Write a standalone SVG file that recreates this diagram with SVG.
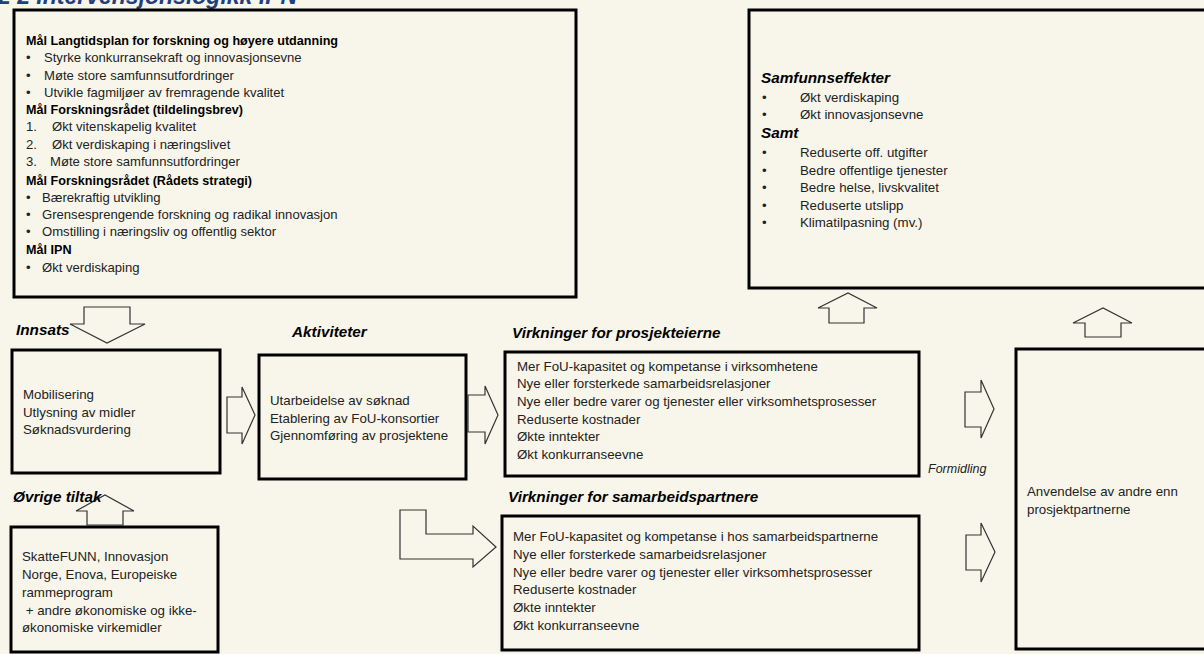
<svg xmlns="http://www.w3.org/2000/svg" width="1204" height="654" viewBox="0 0 1204 654">
<style>
.bg{fill:#f8f6eb}
.box{fill:#f8f6eb;stroke:#000;stroke-width:3}
.arr{fill:#f8f6eb;stroke:#333;stroke-width:1.2;stroke-linejoin:miter}
text{font-family:"Liberation Sans",Arial,sans-serif;fill:#222}
.t{font-size:13.1px}
.tb{font-size:12.6px;font-weight:bold;fill:#000}
.h{font-size:15.3px;font-weight:bold;font-style:italic;fill:#000}
.m{font-size:13.3px}
.it{font-size:12.5px;font-style:italic}
.title{font-size:23px;font-weight:bold;font-style:italic;fill:#1f3f7f}
</style>
<rect class="bg" x="0" y="0" width="1204" height="654"/>
<text class="title" x="-2" y="4">2 2 Intervensjonslogikk IPN</text>

<g id="connectors">
  <polygon class="arr" points="84,307 130,307 130,324 145,324 107,343 70,324 84,324"/>
  <polygon class="arr" points="227,397 242,397 242,387 255,415 242,444 242,433 227,433"/>
  <polygon class="arr" points="468,395 485,395 485,386 498,415 485,444 485,432 468,432"/>
  <polygon class="arr" points="400,510 426,510 426,534 473,534 473,526 496,547 473,567 473,559 400,559"/>
  <polygon class="arr" points="87,525 87,511 76,511 105,495 134,511 123,511 123,525"/>
  <polygon class="arr" points="965,392 981,392 981,380 994,409 981,438 981,427 965,427"/>
  <polygon class="arr" points="966,535 981,535 981,523 995,552 981,582 981,570 966,570"/>
  <polygon class="arr" points="829,323 829,308 818,308 848,293 877,308 864,308 864,323"/>
  <polygon class="arr" points="1085,337 1085,323 1073,323 1103,308 1132,323 1121,323 1121,337"/>
</g>

<g id="maal">
  <rect class="box" x="14" y="10" width="562" height="287"/>
  <text class="tb" x="26" y="44.5">Mål Langtidsplan  for forskning og høyere utdanning</text>
  <text class="t" x="26" y="62">•</text><text class="t" x="44" y="62">Styrke konkurransekraft og innovasjonsevne</text>
  <text class="t" x="26" y="79.5">•</text><text class="t" x="44" y="79.5">Møte store samfunnsutfordringer</text>
  <text class="t" x="26" y="96.5">•</text><text class="t" x="44" y="96.5">Utvikle fagmiljøer av fremragende kvalitet</text>
  <text class="tb" x="26" y="114">Mål Forskningsrådet  (tildelingsbrev)</text>
  <text class="t" x="26" y="131">1.</text><text class="t" x="52" y="131">Økt vitenskapelig kvalitet</text>
  <text class="t" x="26" y="148.5">2.</text><text class="t" x="52" y="148.5">Økt verdiskaping i næringslivet</text>
  <text class="t" x="26" y="166">3.</text><text class="t" x="50" y="166">Møte store samfunnsutfordringer</text>
  <text class="tb" x="26" y="185">Mål Forskningsrådet  (Rådets strategi)</text>
  <text class="t" x="26" y="202">•</text><text class="t" x="42" y="202">Bærekraftig utvikling</text>
  <text class="t" x="26" y="219">•</text><text class="t" x="42" y="219">Grensesprengende  forskning og radikal innovasjon</text>
  <text class="t" x="26" y="236">•</text><text class="t" x="42" y="236">Omstilling i næringsliv og offentlig sektor</text>
  <text class="tb" x="26" y="254">Mål IPN</text>
  <text class="t" x="26" y="272">•</text><text class="t" x="42" y="272">Økt verdiskaping</text>
</g>

<g id="samfunnseffekter">
  <rect class="box" x="749" y="10" width="480" height="278"/>
  <text class="h" x="761" y="83">Samfunnseffekter</text>
  <text class="m" x="762" y="102">•</text><text class="m" x="800" y="102">Økt verdiskaping</text>
  <text class="m" x="762" y="119">•</text><text class="m" x="800" y="119">Økt innovasjonsevne</text>
  <text class="h" x="761" y="138">Samt</text>
  <text class="m" x="762" y="157">•</text><text class="m" x="800" y="157">Reduserte off. utgifter</text>
  <text class="m" x="762" y="175">•</text><text class="m" x="800" y="175">Bedre offentlige tjenester</text>
  <text class="m" x="762" y="192">•</text><text class="m" x="800" y="192">Bedre helse, livskvalitet</text>
  <text class="m" x="762" y="210">•</text><text class="m" x="800" y="210">Reduserte utslipp</text>
  <text class="m" x="762" y="227">•</text><text class="m" x="800" y="227">Klimatilpasning (mv.)</text>
</g>

<g id="innsats">
  <text class="h" x="16" y="335">Innsats</text>
  <rect class="box" x="12" y="350" width="208" height="123"/>
  <text class="m" x="23" y="399">Mobilisering</text>
  <text class="m" x="23" y="417">Utlysning av midler</text>
  <text class="m" x="23" y="434">Søknadsvurdering</text>
</g>

<g id="aktiviteter">
  <text class="h" x="292" y="337">Aktiviteter</text>
  <rect class="box" x="259" y="355" width="207" height="124"/>
  <text class="m" x="270" y="405">Utarbeidelse  av søknad</text>
  <text class="m" x="270" y="423">Etablering av FoU-konsortier</text>
  <text class="m" x="270" y="440">Gjennomføring av prosjektene</text>
</g>

<g id="virkninger-prosjekteierne">
  <text class="h" x="512" y="338">Virkninger for prosjekteierne</text>
  <rect class="box" x="505" y="352" width="414" height="124"/>
  <text class="m" x="517" y="370.5">Mer FoU-kapasitet og kompetanse i virksomhetene</text>
  <text class="m" x="517" y="388">Nye eller forsterkede samarbeidsrelasjoner</text>
  <text class="m" x="517" y="405.5">Nye eller bedre varer og tjenester  eller virksomhetsprosesser</text>
  <text class="m" x="517" y="423.5">Reduserte kostnader</text>
  <text class="m" x="517" y="441">Økte inntekter</text>
  <text class="m" x="517" y="458.5">Økt konkurranseevne</text>
</g>

<g id="formidling">
  <text class="it" x="928" y="473">Formidling</text>
</g>

<g id="virkninger-samarbeidspartnere">
  <text class="h" x="508" y="502">Virkninger for samarbeidspartnere</text>
  <rect class="box" x="502" y="516" width="417" height="134"/>
  <text class="m" x="513" y="541">Mer FoU-kapasitet og kompetanse i hos samarbeidspartnerne</text>
  <text class="m" x="513" y="559">Nye eller forsterkede samarbeidsrelasjoner</text>
  <text class="m" x="513" y="577">Nye eller bedre varer og tjenester  eller virksomhetsprosesser</text>
  <text class="m" x="513" y="594">Reduserte kostnader</text>
  <text class="m" x="513" y="612">Økte inntekter</text>
  <text class="m" x="513" y="630">Økt konkurranseevne</text>
</g>

<g id="ovrige-tiltak">
  <text class="h" x="13" y="502">Øvrige tiltak</text>
  <rect class="box" x="11" y="527" width="207" height="125"/>
  <text class="m" x="22" y="561">SkatteFUNN, Innovasjon</text>
  <text class="m" x="22" y="579">Norge, Enova, Europeiske</text>
  <text class="m" x="22" y="597">rammeprogram</text>
  <text class="m" x="22" y="615" xml:space="preserve"> + andre økonomiske og ikke-</text>
  <text class="m" x="22" y="632">økonomiske virkemidler</text>
</g>

<g id="anvendelse">
  <rect class="box" x="1016" y="349" width="200" height="300"/>
  <text class="m" x="1027" y="496">Anvendelse av andre enn</text>
  <text class="m" x="1027" y="514">prosjektpartnerne</text>
</g>
</svg>
